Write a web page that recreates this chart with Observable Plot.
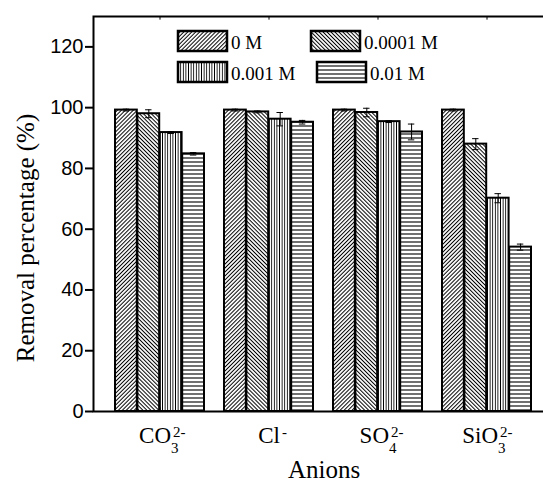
<!DOCTYPE html>
<html><head><meta charset="utf-8">
<script src="https://cdn.jsdelivr.net/npm/d3@7"></script>
<script src="https://cdn.jsdelivr.net/npm/@observablehq/plot@0.6"></script>
<style>
body{margin:0;background:#fff;overflow:hidden}
</style>
</head><body><div id="chart"></div>
<script>
// ---- data ----
const anions = ["CO3", "Cl", "SO4", "SiO3"];
const anionBase = ["CO", "Cl", "SO", "SiO"];
const anionSub = ["3", "", "4", "3"];
const anionSup = ["2-", "-", "2-", "2-"];
const concentrations = ["0 M", "0.0001 M", "0.001 M", "0.01 M"];
const removal = [
  [99.2, 98.0, 91.8, 84.8],   // CO3 2-
  [99.2, 98.6, 96.2, 95.2],   // Cl-
  [99.2, 98.4, 95.4, 92.0],   // SO4 2-
  [99.2, 88.0, 70.2, 54.1]    // SiO3 2-
];
const errors = [
  [0.3, 1.3, 0.3, 0.4],
  [0.3, 0.3, 2.2, 0.6],
  [0.3, 1.4, 0.3, 2.6],
  [0.3, 1.8, 1.5, 1.0]
];
const yTicks = [0, 20, 40, 60, 80, 100, 120];

// ---- table ----
const rows = [];
anions.forEach((a, ai) => concentrations.forEach((c, si) => rows.push({
  anion: a, conc: c, si, value: removal[ai][si], err: errors[ai][si]
})));
const labels = anions.map((a, i) => ({anion: a, base: anionBase[i], sub: anionSub[i], sup: anionSup[i]}));

// ---- layout ----
const W = 543, H = 484, mL = 93, mR = -11, mT = 16, mB = 73;
const padIn = 0.18, padOut = 0.2;
const step = (W - mL - mR) / (anions.length - padIn + 2 * padOut);
const bw = step * (1 - padIn);
const q = bw / 4;
const capW = 7;
const serif = "Liberation Serif";
const sans = "Liberation Sans";

const marks = [];
concentrations.forEach((c, i) => {
  const sub = rows.filter(d => d.si === i);
  marks.push(Plot.barY(sub, {
    x: "anion", y: "value", fill: `url(#pat${i})`, stroke: "black", strokeWidth: 2,
    insetLeft: i * q, insetRight: (3 - i) * q
  }));
});
concentrations.forEach((c, i) => {
  const sub = rows.filter(d => d.si === i);
  const off = (i - 1.5) * q;
  marks.push(Plot.ruleX(sub, {x: "anion", y1: d => d.value - d.err, y2: d => d.value + d.err, dx: off, stroke: "black", strokeWidth: 1}));
  const inL = i * q + (q - capW) / 2, inR = (3 - i) * q + (q - capW) / 2;
  marks.push(Plot.tickY(sub, {x: "anion", y: d => d.value + d.err, insetLeft: inL, insetRight: inR, stroke: "black", strokeWidth: 1}));
  marks.push(Plot.tickY(sub, {x: "anion", y: d => d.value - d.err, insetLeft: inL, insetRight: inR, stroke: "black", strokeWidth: 1}));
});

// legend (inside frame)
const legendPos = [
  {x: 178, y: 31, tx: 231, ty: 49},
  {x: 311, y: 31, tx: 364, ty: 49},
  {x: 178, y: 62, tx: 231, ty: 80},
  {x: 317, y: 62, tx: 370, ty: 80}
];
function legend() {
  const g = d3.create("svg:g");
  concentrations.forEach((c, i) => {
    const p = legendPos[i];
    g.append("rect").attr("x", p.x).attr("y", p.y).attr("width", 49).attr("height", 20)
      .attr("fill", `url(#pat${i})`).attr("stroke", "black").attr("stroke-width", 2.5);
    g.append("text").attr("x", p.tx).attr("y", p.ty).attr("font-family", serif)
      .attr("text-anchor", "start").attr("font-size", 19).attr("fill", "black").text(c);
  });
  return g.node();
}

const plot = Plot.plot({
  width: W, height: H,
  marginLeft: mL, marginRight: mR, marginTop: mT, marginBottom: mB,
  x: {type: "band", domain: anions, paddingInner: padIn, paddingOuter: padOut, axis: null},
  y: {domain: [0, 130], axis: null},
  style: {fontFamily: serif, background: "white", color: "black"},
  marks: [
    ...marks,
    Plot.ruleX(anions, {x: d => d, y1: 0, y2: 1.2, stroke: "black", strokeWidth: 1}),
    Plot.ruleX(anions, {x: d => d, y1: 128.8, y2: 130, stroke: "black", strokeWidth: 1}),
    Plot.axisY({ticks: yTicks, tickSize: 8, tickPadding: 2, fontSize: 20, fontFamily: sans, label: null, strokeWidth: 2}),
    Plot.frame({stroke: "black", strokeWidth: 2}),
    // x tick labels with sub/superscripts
    Plot.text(labels, {x: "anion", y: () => 0, text: "base", textAnchor: "end", lineAnchor: "bottom", dx: 11, dy: 31, fontSize: 23, fontFamily: serif, fill: "black"}),
    Plot.text(labels, {x: "anion", y: () => 0, text: "sub", textAnchor: "start", lineAnchor: "bottom", dx: 11, dy: 41, fontSize: 15, fontFamily: serif, fill: "black"}),
    Plot.text(labels, {x: "anion", y: () => 0, text: "sup", textAnchor: "start", lineAnchor: "bottom", dx: 13, dy: 25, fontSize: 15, fontFamily: serif, fill: "black"}),
    Plot.text(["Anions"], {frameAnchor: "bottom", textAnchor: "middle", lineAnchor: "bottom", dy: 66, fontSize: 25, fontFamily: serif, fill: "black"}),
    Plot.text(["Removal percentage (%)"], {frameAnchor: "left", textAnchor: "middle", lineAnchor: "middle", rotate: -90, dx: -68, dy: 24, fontSize: 25, fontFamily: serif, fill: "black"}),
    legend
  ]
});

// hatch patterns
const defs = d3.select(plot).insert("defs", ":first-child");
function hatch(id, size, rotate, sw, color) {
  const p = defs.append("pattern").attr("id", id).attr("patternUnits", "userSpaceOnUse")
    .attr("width", size).attr("height", size);
  if (rotate) p.attr("patternTransform", `rotate(${rotate})`);
  p.append("rect").attr("width", size).attr("height", size).attr("fill", "white");
  p.append("line").attr("x1", size / 2).attr("x2", size / 2).attr("y1", -1).attr("y2", size + 1)
    .attr("stroke", color).attr("stroke-width", sw);
}
hatch("pat0", 2.8, 45, 1, "black");
hatch("pat1", 2.8, -45, 1, "black");
hatch("pat2", 2.6, 0, 0.9, "black");
hatch("pat3", 4, 90, 1.4, "#333");

document.getElementById("chart").append(plot);
</script>
</body></html>
